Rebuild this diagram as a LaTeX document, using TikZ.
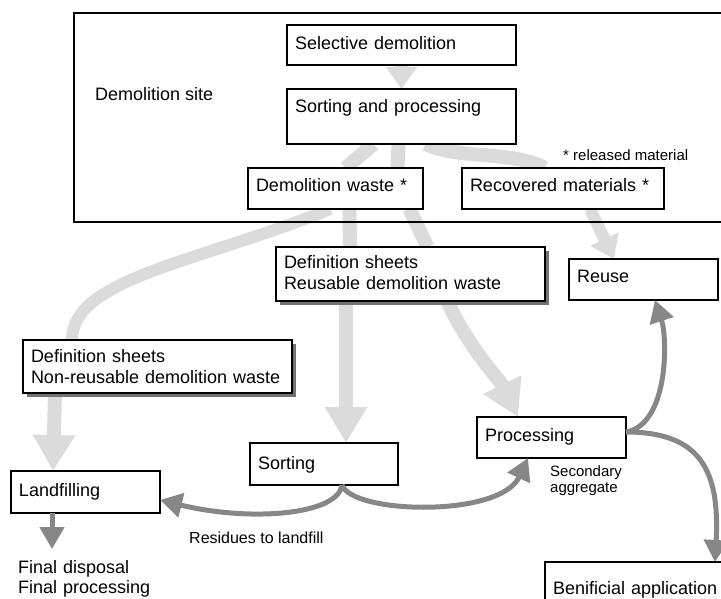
\documentclass[tikz,border=0pt]{standalone}
\usepackage{fontspec}
\setmainfont{Liberation Sans}
\usetikzlibrary{arrows.meta,shadows}
\pgfdeclarelayer{background}
\pgfsetlayers{background,main}
\definecolor{lightarr}{gray}{0.86}
\definecolor{darkarr}{gray}{0.53}
\tikzset{
  box/.style={draw, line width=1.3pt, fill=white, anchor=north west, align=left,
    inner xsep=8pt, inner ysep=0pt, outer sep=0pt, font=\fontsize{18pt}{21pt}\selectfont},
  shbox/.style={box, drop shadow={shadow xshift=4pt, shadow yshift=-4pt, fill=black!55, opacity=1}},
  lightarrow/.style={draw=lightarr, line width=14pt},
  lighthead/.style={lightarrow, -{Triangle[width=40pt,length=36pt]}},
  smallhead/.style={lightarrow, line width=12pt, -{Triangle[width=30pt,length=22pt]}},
  darkarrow/.style={draw=darkarr, line width=5pt, -{Triangle[width=24pt,length=22pt]}},
  lbl/.style={anchor=base west, inner sep=0pt, font=\fontsize{18pt}{21pt}\selectfont},
}
\begin{document}
\begin{tikzpicture}[x=1pt, y=-1pt]
\useasboundingbox (0,0) rectangle (721,599);
\clip (0,0) rectangle (721,599);

% site frame
\node[draw, line width=1.3pt, anchor=north west, minimum width=660pt, minimum height=209pt,
  inner sep=0pt, outer sep=0pt] (sitebox) at (74,13) {};

% boxes
\node[box, text width=213pt, text height=25pt, text depth=15pt] (sel) at (287,25) {Selective demolition};
\node[box, text width=213pt, text height=24pt, text depth=31pt] (sp) at (287,89) {Sorting and processing};
\node[box, text width=159pt, text height=24pt, text depth=17pt] (dw) at (248,168) {Demolition waste *};
\node[box, text width=186pt, text height=24pt, text depth=17pt] (rm) at (462,168) {Recovered materials *};
\node[shbox, text width=253pt, text height=22pt, text depth=32pt] (ru) at (276,247) {Definition sheets\\Reusable demolition waste};
\node[box, text width=133pt, text height=24pt, text depth=17pt] (re) at (569,259) {Reuse};
\node[shbox, text width=253pt, text height=22pt, text depth=31pt] (nr) at (23,340) {Definition sheets\\Non-reusable demolition waste};
\node[box, text width=133pt, text height=25pt, text depth=17pt] (lf) at (11,471) {Landfilling};
\node[box, text width=132pt, text height=26pt, text depth=16pt] (so) at (250,443) {Sorting};
\node[box, text width=133pt, text height=24pt, text depth=17pt] (pr) at (477,417) {Processing};
\node[box, text width=180pt, text height=32pt, text depth=20pt] (be) at (545,562) {Benificial application};

% free labels
\node[lbl] (site) at (95,101) {Demolition site};
\node[lbl, font=\fontsize{15pt}{18pt}\selectfont] (rel) at (563,161) {* released material};
\node[lbl, font=\fontsize{15pt}{16pt}\selectfont, text width=80pt, align=left] (sec) at (550,476) {Secondary\\aggregate};
\node[lbl, font=\fontsize{16pt}{19pt}\selectfont] (res) at (189,543) {Residues to landfill};
\node[lbl, font=\fontsize{18pt}{20pt}\selectfont, text width=160pt, align=left] (fin) at (18,573) {Final disposal\\Final processing};
\coordinate (fdtop) at (52,549);

% light (material flow) arrows
\begin{pgfonlayer}{background}
\draw[smallhead] (sel.south) -- (sp.north);
\draw[lightarrow] ([xshift=-28pt]sp.south) -- ([xshift=10pt]dw.north);
\draw[lightarrow] ([xshift=-3pt]sp.south) -- ([xshift=62pt]dw.north);
\draw[lightarrow] ([xshift=24pt]sp.south) .. controls (460,160) and (510,150) .. ([xshift=83pt]rm.north west);
\draw[lightarrow, line width=12pt] ([xshift=-5pt]dw.south) .. controls (200,262) and (72,278) .. ([xshift=49pt]nr.north west);
\draw[lightarrow] ([xshift=14pt]dw.south) -- ([xshift=74pt]ru.north west);
\draw[lightarrow] ([xshift=74pt]dw.south) -- ([xshift=17pt]ru.north);
\draw[smallhead] ([xshift=27pt]rm.south) -- ([xshift=45pt]re.north west);
\draw[lighthead] ([xshift=70pt]ru.south west) -- ([xshift=22pt]so.north);
\draw[lighthead] ([xshift=171pt]ru.south west) .. controls (470,350) and (500,380) .. ([xshift=41pt]pr.north west);
\draw[lighthead] ([xshift=32pt]nr.south west) -- ([xshift=42pt]lf.north west);
\end{pgfonlayer}

% dark arrows
\draw[darkarrow] ([xshift=18pt]so.south) .. controls (338,515) and (250,522) .. ([yshift=-8pt]lf.east);
\draw[darkarrow] ([xshift=18pt]so.south) .. controls (352,514) and (500,518) .. ([xshift=51pt]pr.south west);
\draw[darkarrow] ([yshift=5.5pt]pr.east) .. controls (668,425) and (668,340) .. ([xshift=86pt]re.south west);
\draw[darkarrow] ([yshift=5.5pt]pr.east) .. controls (700,432) and (720,470) .. ([xshift=170pt]be.north west);
\draw[darkarrow] ([xshift=41pt]lf.south west) -- (fdtop);
\end{tikzpicture}
\end{document}
